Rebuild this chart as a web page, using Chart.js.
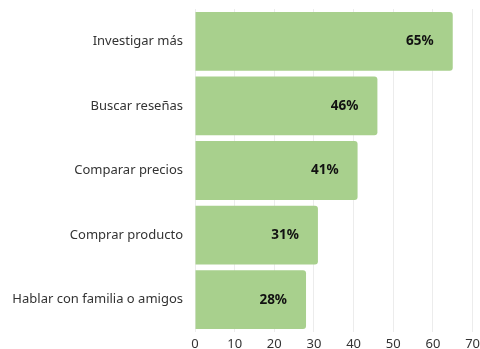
<!DOCTYPE html>
<html>
<head>
<meta charset="utf-8">
<script src="https://cdn.jsdelivr.net/npm/chart.js@4"></script>
<style>
  body { margin: 0; background: #fff; overflow: hidden; }
  #wrap { width: 484px; height: 349px; }
</style>
</head>
<body>
<div id="wrap"><canvas id="miGrafico"></canvas></div>
<script>
const categorias = [
  "Investigar más",
  "Buscar reseñas",
  "Comparar precios",
  "Comprar producto",
  "Hablar con familia o amigos",
];
const valores = [65, 46, 41, 31, 28];
const ticksX = [0, 10, 20, 30, 40, 50, 60, 70];

const fuente = "'Noto Sans', sans-serif";

// etiquetas de porcentaje dentro de la barra
const etiquetas = {
  id: "etiquetas",
  afterDatasetsDraw(chart) {
    const ctx = chart.ctx;
    const meta = chart.getDatasetMeta(0);
    ctx.save();
    ctx.font = "bold 13.5px " + fuente;
    ctx.fillStyle = "#111";
    ctx.textAlign = "right";
    ctx.textBaseline = "middle";
    meta.data.forEach((bar, i) => {
      ctx.fillText(valores[i] + "%", bar.x - 19, bar.y);
    });
    ctx.restore();
  },
};

let ctx = document.getElementById("miGrafico").getContext("2d");
let chart = new Chart(ctx, {
  type: "bar",
  data: {
    labels: categorias,
    datasets: [
      {
        data: valores,
        backgroundColor: "#a8d08d",
        borderRadius: 3,
        borderSkipped: "start",
        barPercentage: 0.91,
        categoryPercentage: 1,
      },
    ],
  },
  options: {
    indexAxis: "y",
    responsive: true,
    maintainAspectRatio: false,
    animation: false,
    layout: { padding: { top: 9, bottom: 0, left: 0, right: 0 } },
    plugins: { legend: { display: false }, tooltip: { enabled: false } },
    scales: {
      x: {
        min: 0,
        max: 70,
        afterBuildTicks: (axis) => {
          axis.ticks = ticksX.map((v) => ({ value: v }));
        },
        afterFit: (axis) => {
          axis.height = 17;
        },
        grid: { color: "#ececec", drawTicks: false },
        border: { display: false },
        ticks: {
          color: "#333",
          font: { family: fuente, size: 13 },
          padding: 4,
        },
      },
      y: {
        afterFit: (axis) => {
          axis.width = 195;
          axis.paddingTop = 0;
          axis.paddingBottom = 0;
        },
        grid: { display: false },
        border: { display: false },
        ticks: {
          color: "#333",
          font: { family: fuente, size: 13 },
          padding: 4,
        },
      },
    },
  },
  plugins: [etiquetas],
});
</script>
</body>
</html>
